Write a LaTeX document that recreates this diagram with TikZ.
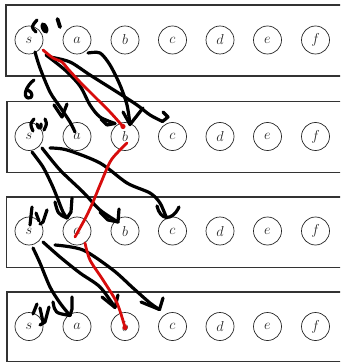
\documentclass[tikz,border=0pt]{standalone}
\usetikzlibrary{calc}
\definecolor{inkred}{RGB}{215,12,12}
\begin{document}
\begin{tikzpicture}[x=1pt,y=-1pt,
  vtx/.style={circle, draw=black!85, line width=0.7pt, minimum size=28pt, inner sep=0pt, text=black!85, font=\fontsize{14}{16}\selectfont},
  frame/.style={draw=black!80, line width=1.1pt},
  pen/.style={line width=3.2pt, line cap=round, line join=round, draw=black},
  redpen/.style={line width=2.8pt, line cap=round, line join=round, draw=inkred},
  blob/.style={fill=black}
]
\useasboundingbox (0,0) rectangle (340,363);
\clip (0,0) rectangle (340,363);
% frames
\draw[frame] (6,5) rectangle (350,76);
\draw[frame] (7,101.5) rectangle (350,172.5);
\draw[frame] (6.5,197) rectangle (350,267.5);
\draw[frame] (7,292) rectangle (350,361.5);
% nodes
\foreach \r/\yy in {1/40,2/136.5,3/231,4/326.5}{
  \foreach \n/\xx in {s/29,a/77,b/125,c/172.5,d/220,e/267.5,f/315.5}{
    \node[vtx] (\n\r) at (\xx,\yy) {$\n$};
  }
}
% ---------- row 1 -> row 2
\coordinate (s1o1) at ($(s1)+(6,12)$);
\coordinate (a2i) at ($(a2)+(-2,-4.5)$);
\draw[pen] plot[smooth] coordinates {(s1o1) (40,68) (50,92) (60,107) (70,122) (a2i)};
\draw[pen] (54,105) -- (62,117) -- (67,104);
\coordinate (s1o2) at ($(s1)+(17,15)$);
\coordinate (b2i1) at ($(b2)+(-10,-13)$);
\draw[pen] plot[smooth] coordinates {(s1o2) (65,70) (80,86) (90,105) (100,117) (b2i1)};
\draw[pen] (101,119) -- (107,125) -- (b2i1);
\coordinate (s1o3) at ($(s1)+(21,17)$);
\coordinate (c2i) at ($(c2)+(-10,-15)$);
\draw[pen] plot[smooth] coordinates {(s1o3) (70,62) (90,75) (117,92) (137,105) (150,115) (c2i)};
\draw[pen] (163,112) -- (168,117) -- (c2i);
\coordinate (a1o) at ($(a1)+(11,13)$);
\coordinate (b2i2) at ($(b2)+(5,-12)$);
\draw[pen] plot[smooth] coordinates {(a1o) (100,53) (110,65) (120,85) (127,105) (b2i2)};
\draw[pen] (123,112) -- (b2i2) -- (143,108);
\coordinate (s1r) at ($(s1)+(14,10)$);
\coordinate (b2r) at ($(b2)+(-2,-10)$);
\draw[redpen] plot[smooth] coordinates {(s1r) (53,58) (62,62) (68,69) (80,82) (90,92) (97,99) (110,112) (b2r)};
\fill[inkred] (b2r) circle [radius=2.6pt];
% marks near s1
\draw[pen] (36,32) .. controls (31,27) .. (37,20);
\fill[blob, rotate around={25:(44.5,28)}] (44.5,28) ellipse [x radius=3.4pt, y radius=6pt];
\draw[pen, line width=3.8pt] (57.5,19) -- (60,27);
\draw[pen] (34,80) .. controls (27,85) and (22,96) .. (28,98) .. controls (33,99) and (34,92) .. (27,90);
% marks near s2
\draw[pen] (34,119) .. controls (30,124) .. (33,131);
\draw[pen] (37,124) .. controls (38,130) and (42,129) .. (41,124);
\draw[pen] (45,119) .. controls (47,124) .. (44,130);
% ---------- row 2 -> row 3
\coordinate (s2o1) at ($(s2)+(3,15.5)$);
\coordinate (a3t) at ($(a3)+(-10,-13)$);
\draw[pen] plot[smooth] coordinates {(s2o1) (43,167) (52,185) (57,197) (63,212) (a3t)};
\draw[pen] (55,202) .. controls (58,214) .. (a3t);
\draw[pen] (72,198) -- (71,212) -- (a3t);
\coordinate (s2o2) at ($(s2)+(13,11.5)$);
\coordinate (b3t) at ($(b3)+(-7,-9)$);
\draw[pen] plot[smooth] coordinates {(s2o2) (60,170) (83,192) (100,210) (b3t)};
\draw[pen] (100,212) -- (108,220) -- (b3t) -- (119,209);
\coordinate (s2o3) at ($(s2)+(21,11.5)$);
\coordinate (c3t) at ($(c3)+(-6,-13)$);
\draw[pen] plot[smooth] coordinates {(s2o3) (67,150) (100,163) (127,183) (150,193) (160,203) (c3t)};
\draw[pen] (157,206) .. controls (160,220) and (172,222) .. (179,207);
\coordinate (b2r2) at ($(b2)+(2,6.5)$);
\coordinate (a3r) at ($(a3)+(-2,6)$);
\draw[redpen] plot[smooth] coordinates {(b2r2) (118,152) (110,162) (100,185) (93,202) (86,217) (a3r)};
% marks near s3
\draw[pen] (32,207) -- (30,225);
\draw[pen] (36,213) -- (39,221);
\draw[pen] (47,210) -- (43,222) -- (40,224);
% ---------- row 3 -> row 4
\coordinate (s3o1) at ($(s3)+(4,17)$);
\coordinate (a4t) at ($(a4)+(-7,-11)$);
\draw[pen] plot[smooth] coordinates {(s3o1) (40,263) (50,287) (60,303) (a4t)};
\draw[pen] (53,302) .. controls (55,313) .. (a4t);
\draw[pen] (72,297) -- (72,309) -- (a4t);
\coordinate (s3o2) at ($(s3)+(14,11)$);
\coordinate (b4t) at ($(b4)+(-10,-19)$);
\draw[pen] plot[smooth] coordinates {(s3o2) (60,257) (80,273) (100,287) (b4t)};
\draw[pen] (102,297) -- (b4t) -- (118,295);
\coordinate (s3o3) at ($(s3)+(26,14)$);
\coordinate (c4t) at ($(c4)+(-13,-17)$);
\draw[pen] plot[smooth] coordinates {(s3o3) (83,250) (113,270) (133,288) (150,303) (c4t)};
\draw[pen] (141,302) -- (c4t) -- (163,298);
\coordinate (a3r2) at ($(a3)+(8,12)$);
\coordinate (b4r) at ($(b4)+(0,1)$);
\draw[redpen] plot[smooth] coordinates {(a3r2) (90,260) (103,280) (117,303) (b4r)};
\fill[inkred] (b4r) circle [radius=2.6pt];
% marks near s4
\draw[pen] (33,314) -- (37,304);
\draw[pen] (40,308) -- (43,322);
\draw[pen] (49,307) -- (45,322) -- (40,325);
\end{tikzpicture}
\end{document}
